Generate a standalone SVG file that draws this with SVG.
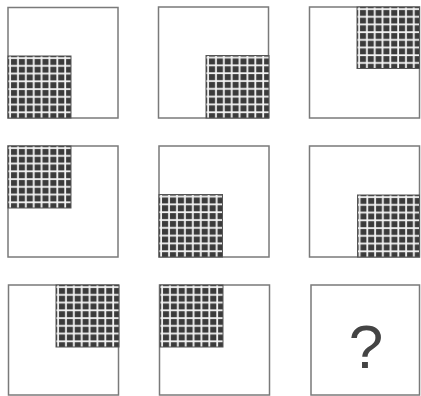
<svg xmlns="http://www.w3.org/2000/svg" width="421" height="396" viewBox="0 0 421 396">
<style>
.box{fill:#fff;stroke:#7a7a7a;stroke-width:1.5}
.h{fill:url(#grid);stroke:#555;stroke-width:1}
.q{font-family:"Liberation Sans",Arial,sans-serif;font-size:62px;fill:#444;text-anchor:middle}
</style>
<defs>
<pattern id="grid" patternUnits="objectBoundingBox" width="0.125" height="0.125">
<rect width="8" height="8" fill="#3b3b3b"/>
<rect x="1.2" y="0" width="1.8" height="8" fill="#f4f4f4"/>
<rect x="0" y="1.2" width="8" height="1.8" fill="#f4f4f4"/>
</pattern>
</defs>
<rect width="421" height="396" fill="#fff"/>
<g id="cell1"><rect class="box" x="8" y="7.5" width="110" height="110.5"/><rect class="h" x="8" y="56" width="63" height="62"/></g>
<g id="cell2"><rect class="box" x="158.5" y="7" width="110" height="111"/><rect class="h" x="206" y="55.5" width="63" height="62.5"/></g>
<g id="cell3"><rect class="box" x="309.5" y="7" width="110" height="111"/><rect class="h" x="357" y="7" width="62.5" height="61.5"/></g>
<g id="cell4"><rect class="box" x="8" y="146" width="110" height="111"/><rect class="h" x="8" y="146" width="63" height="62"/></g>
<g id="cell5"><rect class="box" x="159" y="146" width="110" height="111"/><rect class="h" x="159" y="194.5" width="63.5" height="62.5"/></g>
<g id="cell6"><rect class="box" x="309.5" y="146" width="110" height="111"/><rect class="h" x="357.5" y="195" width="62" height="62"/></g>
<g id="cell7"><rect class="box" x="8.5" y="285" width="110" height="110"/><rect class="h" x="56" y="285" width="63" height="62"/></g>
<g id="cell8"><rect class="box" x="159.5" y="285" width="110" height="110"/><rect class="h" x="160" y="285" width="63" height="62"/></g>
<g id="cell9"><rect class="box" x="311" y="285" width="108.5" height="110"/><text class="q" x="366" y="368">?</text></g>
<g id="connectors"/>
</svg>
